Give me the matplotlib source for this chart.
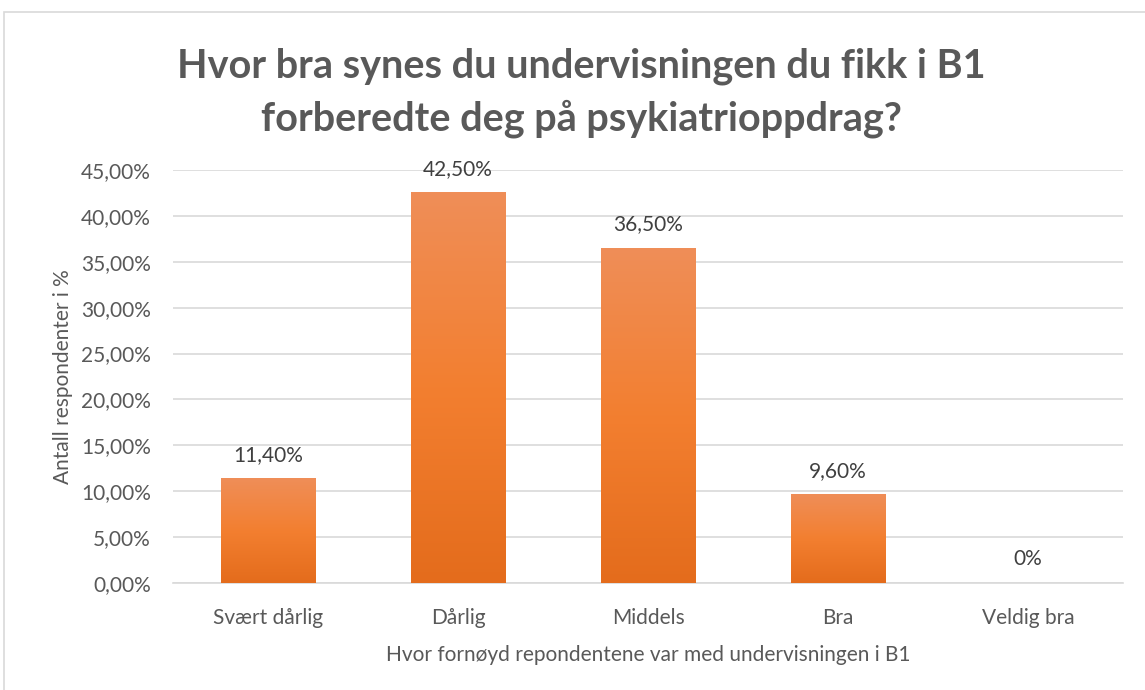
import numpy as np
import matplotlib.pyplot as plt
from matplotlib.patches import Rectangle
from matplotlib.colors import LinearSegmentedColormap

categories = ["Svært dårlig", "Dårlig", "Middels", "Bra", "Veldig bra"]
values = [11.4, 42.5, 36.5, 9.6, 0.0]
value_labels = ["11,40%", "42,50%", "36,50%", "9,60%", "0%"]
yticks = [0, 5, 10, 15, 20, 25, 30, 35, 40, 45]

plt.rcParams['font.family'] = ['Lato', 'DejaVu Sans']
text_col = "#595959"

fig = plt.figure(figsize=(11.45, 6.9), dpi=100)
# chart border
fig.patches.append(Rectangle((4 / 1145, -0.01), 1.1, 1 - 12 / 690 + 0.01, transform=fig.transFigure,
                             fill=False, edgecolor="#D9D9D9", linewidth=1.2))

ax = fig.add_axes([173 / 1145, 1 - 583 / 690, (1123 - 173) / 1145, (583 - 170) / 690])

# gradient for bars
grad = np.linspace(0, 1, 256).reshape(-1, 1)
cmap = LinearSegmentedColormap.from_list("og", ["#E46C1C", "#F37F30", "#EF8E58"])

bars = ax.bar(range(len(categories)), values, width=0.5, color="none", zorder=3)
for b in bars:
    x0, y0 = b.get_x(), b.get_y()
    w, h = b.get_width(), b.get_height()
    if h <= 0:
        continue
    ax.imshow(grad, extent=[x0, x0 + w, y0, y0 + h], origin="lower", cmap=cmap,
              aspect="auto", zorder=3)
ax.set_xlim(-0.5, len(categories) - 0.5)
ax.set_ylim(0, 45)

for i, (v, lab) in enumerate(zip(values, value_labels)):
    ax.text(i, v + 1.5, lab, ha="center", va="bottom", fontsize=15, color="#404040")

ax.set_yticks(yticks)
ax.set_yticklabels([f"{t:.2f}".replace(".", ",") + "%" for t in yticks])
ax.set_xticks(range(len(categories)))
ax.set_xticklabels(categories)
ax.tick_params(axis="both", length=0, labelsize=15, labelcolor=text_col)
ax.tick_params(axis="x", pad=18)
ax.tick_params(axis="y", pad=16)
ax.grid(axis="y", color="#D9D9D9", linewidth=1.2, zorder=0)
for s in ["top", "right", "left"]:
    ax.spines[s].set_visible(False)
ax.spines["bottom"].set_color("#D9D9D9")
ax.spines["bottom"].set_linewidth(1.2)

ax.set_xlabel("Hvor fornøyd repondentene var med undervisningen i B1", fontsize=15, color=text_col, labelpad=12)
ax.set_ylabel("Antall respondenter i %", fontsize=15, color=text_col, labelpad=6)

fig.text(0.508, 1 - 93 / 690, "Hvor bra synes du undervisningen du fikk i B1\nforberedte deg på psykiatrioppdrag?",
         ha="center", va="center", fontsize=28.5, fontweight="bold", color=text_col, linespacing=1.45)

fig.savefig("out.png", dpi=100)
